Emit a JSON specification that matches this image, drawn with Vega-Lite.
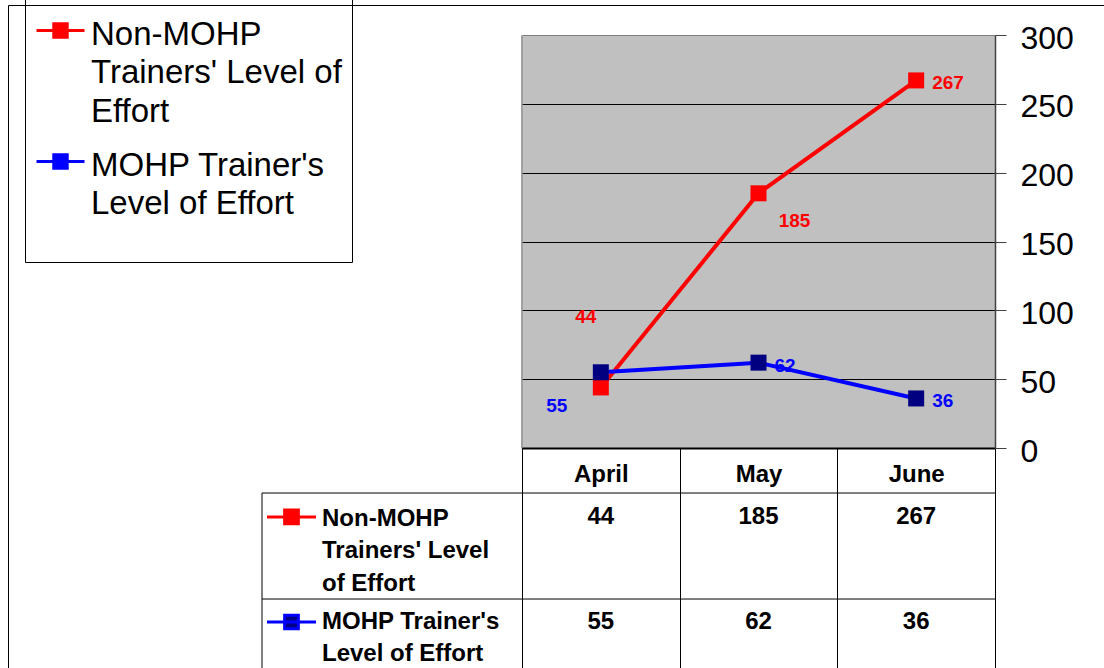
{
  "$schema": "https://vega.github.io/schema/vega-lite/v6.json",
  "width": 1096,
  "height": 663,
  "autosize": {"type": "none"},
  "padding": {"left": 8, "top": 5, "right": 0, "bottom": 0},
  "background": "white",
  "config": {
    "font": "Liberation Sans",
    "view": {"stroke": "black", "strokeWidth": 1, "strokeDash": [1096, 1759, 663, 0]}
  },
  "data": {
    "values": [
      {"month": "April", "series": "Non-MOHP Trainers' Level of Effort", "value": 44},
      {"month": "May", "series": "Non-MOHP Trainers' Level of Effort", "value": 185},
      {"month": "June", "series": "Non-MOHP Trainers' Level of Effort", "value": 267},
      {"month": "April", "series": "MOHP Trainer's Level of Effort", "value": 55},
      {"month": "May", "series": "MOHP Trainer's Level of Effort", "value": 62},
      {"month": "June", "series": "MOHP Trainer's Level of Effort", "value": 36}
    ]
  },
  "resolve": {"axis": {"x": "independent", "y": "independent"}},
  "layer": [
    {
      "transform": [{"aggregate": [{"op": "count", "as": "n"}]}],
      "mark": {"type": "rule", "color": "#808080", "strokeWidth": 1},
      "encoding": {
        "x": {
          "datum": "April", "bandPosition": 0, "type": "nominal",
          "scale": {"type": "band", "domain": ["April", "May", "June"], "range": [514, 987], "paddingInner": 0, "paddingOuter": 0},
          "axis": {"orient": "top", "grid": true, "tickBand": "center", "gridColor": "#C0C0C0", "gridWidth": 159, "gridOpacity": 1, "gridCap": "butt", "domain": false, "ticks": false, "labels": false, "title": null}
        },
        "y": {
          "datum": 0, "type": "quantitative",
          "scale": {"domain": [0, 300], "range": [443, 30], "nice": false, "zero": false},
          "axis": {
            "orient": "left", "values": [0, 50, 100, 150, 200, 250, 300],
            "grid": true, "gridWidth": 1,
            "gridColor": {"condition": {"test": "datum.value == 300", "value": "#808080"}, "value": "#000000"},
            "domain": false, "ticks": false, "labels": false, "title": null
          }
        },
        "y2": {"datum": 300}
      }
    },
    {
      "mark": {"type": "line", "strokeWidth": 4},
      "encoding": {
        "x": {
          "field": "month", "type": "nominal", "sort": ["April", "May", "June"],
          "scale": {"type": "band", "domain": ["April", "May", "June"], "range": [514, 987], "paddingInner": 0, "paddingOuter": 0},
          "axis": {
            "orient": "bottom", "offset": -220, "tickBand": "extent", "tickSize": 220, "tickColor": "#000000", "tickWidth": 1,
            "domainColor": "#000000", "domainWidth": 2, "grid": false,
            "labelFont": "Liberation Sans", "labelFontWeight": "bold", "labelFontSize": 24, "labelColor": "#000000",
            "labelPadding": -187, "labelBaseline": "alphabetic", "labelAngle": 0, "title": null
          }
        },
        "y": {
          "field": "value", "type": "quantitative",
          "scale": {"domain": [0, 300], "range": [443, 30], "nice": false, "zero": false},
          "axis": {
            "orient": "right", "offset": -109, "values": [0, 50, 100, 150, 200, 250, 300],
            "grid": false,
            "domainColor": "#404040", "domainWidth": 1.5,
            "tickSize": 11, "tickColor": "#404040", "tickWidth": 1,
            "labelFont": "Liberation Sans", "labelFontSize": 32, "labelColor": "#000000",
            "labelPadding": 14, "labelOffset": 3, "labelFlush": false, "labelOverlap": false,
            "title": null
          }
        },
        "color": {
          "field": "series", "type": "nominal",
          "scale": {"domain": ["Non-MOHP Trainers' Level of Effort", "MOHP Trainer's Level of Effort"], "range": ["#FF0000", "#0000FF"]},
          "legend": {
            "orient": "none", "legendX": 17, "legendY": -10,
            "title": " ", "titleOrient": "bottom", "titleFontSize": 32, "titlePadding": 0,
            "strokeColor": "#000000", "fillColor": "transparent", "padding": 10,
            "symbolType": "M-1,0H1M-0.28,-0.28H0.28V0.28H-0.28Z", "symbolSize": 2304, "symbolStrokeWidth": 3,
            "labelFont": "Liberation Sans", "labelFontSize": 33, "labelColor": "#000000", "labelLimit": 600,
            "labelOffset": 5, "labelBaseline": "alphabetic", "rowPadding": 7,
            "labelExpr": "indexof(datum.label, 'Non-') == 0 ? ['Non-MOHP', \"Trainers' Level of\", 'Effort'] : [\"MOHP Trainer's\", 'Level of Effort']",
            "encode": {
              "symbols": {"update": {"fill": {"scale": "fill", "field": "value"}, "stroke": {"scale": "color", "field": "value"}, "strokeWidth": {"value": 3}}},
              "labels": {"update": {"dy": {"value": 14}, "lineHeight": {"value": 38.5}}}
            }
          }
        }
      }
    },
    {
      "mark": {"type": "point", "shape": "square", "filled": true, "size": 256, "opacity": 1},
      "encoding": {
        "x": {"field": "month", "type": "nominal", "scale": {"type": "band", "domain": ["April", "May", "June"], "range": [514, 987], "paddingInner": 0, "paddingOuter": 0}, "axis": null},
        "y": {"field": "value", "type": "quantitative", "scale": {"domain": [0, 300], "range": [443, 30], "nice": false, "zero": false}, "axis": null},
        "fill": {
          "field": "series", "type": "nominal",
          "scale": {"domain": ["Non-MOHP Trainers' Level of Effort", "MOHP Trainer's Level of Effort"], "range": ["#FF0000", "#000080"]},
          "legend": null
        }
      }
    },
    {
      "transform": [{"filter": "datum.month != 'April' && !(datum.month == 'May' && indexof(datum.series, 'Non-') == 0)"}],
      "mark": {"type": "text", "align": "left", "baseline": "middle", "dx": 16, "dy": 3, "fontSize": 19, "fontWeight": "bold", "font": "Liberation Sans"},
      "encoding": {
        "x": {"field": "month", "type": "nominal", "scale": {"type": "band", "domain": ["April", "May", "June"], "range": [514, 987], "paddingInner": 0, "paddingOuter": 0}, "axis": null},
        "y": {"field": "value", "type": "quantitative", "scale": {"domain": [0, 300], "range": [443, 30], "nice": false, "zero": false}, "axis": null},
        "text": {"field": "value", "type": "quantitative"},
        "color": {"field": "series", "type": "nominal"}
      }
    },
    {
      "transform": [{"filter": "datum.month == 'April' && indexof(datum.series, 'Non-') == 0"}],
      "mark": {"type": "text", "align": "center", "baseline": "middle", "dx": -15, "dy": -70, "fontSize": 19, "fontWeight": "bold", "font": "Liberation Sans"},
      "encoding": {
        "x": {"field": "month", "type": "nominal", "scale": {"type": "band", "domain": ["April", "May", "June"], "range": [514, 987], "paddingInner": 0, "paddingOuter": 0}, "axis": null},
        "y": {"field": "value", "type": "quantitative", "scale": {"domain": [0, 300], "range": [443, 30], "nice": false, "zero": false}, "axis": null},
        "text": {"field": "value", "type": "quantitative"},
        "color": {"field": "series", "type": "nominal"}
      }
    },
    {
      "transform": [{"filter": "datum.month == 'May' && indexof(datum.series, 'Non-') == 0"}],
      "mark": {"type": "text", "align": "center", "baseline": "middle", "dx": 36, "dy": 28, "fontSize": 19, "fontWeight": "bold", "font": "Liberation Sans"},
      "encoding": {
        "x": {"field": "month", "type": "nominal", "scale": {"type": "band", "domain": ["April", "May", "June"], "range": [514, 987], "paddingInner": 0, "paddingOuter": 0}, "axis": null},
        "y": {"field": "value", "type": "quantitative", "scale": {"domain": [0, 300], "range": [443, 30], "nice": false, "zero": false}, "axis": null},
        "text": {"field": "value", "type": "quantitative"},
        "color": {"field": "series", "type": "nominal"}
      }
    },
    {
      "transform": [{"filter": "datum.month == 'April' && indexof(datum.series, 'Non-') != 0"}],
      "mark": {"type": "text", "align": "center", "baseline": "middle", "dx": -44, "dy": 33.5, "fontSize": 19, "fontWeight": "bold", "font": "Liberation Sans"},
      "encoding": {
        "x": {"field": "month", "type": "nominal", "scale": {"type": "band", "domain": ["April", "May", "June"], "range": [514, 987], "paddingInner": 0, "paddingOuter": 0}, "axis": null},
        "y": {"field": "value", "type": "quantitative", "scale": {"domain": [0, 300], "range": [443, 30], "nice": false, "zero": false}, "axis": null},
        "text": {"field": "value", "type": "quantitative"},
        "color": {"field": "series", "type": "nominal"}
      }
    },
    {
      "transform": [{"aggregate": [{"op": "count", "as": "n"}]}],
      "mark": {"type": "rule", "color": "#000000", "strokeWidth": 1},
      "encoding": {
        "x": {"datum": "April", "bandPosition": -1.649, "type": "nominal", "scale": {"type": "band", "domain": ["April", "May", "June"], "range": [514, 987], "paddingInner": 0, "paddingOuter": 0}, "axis": null},
        "x2": {"datum": "June", "bandPosition": 1},
        "y": {"datum": -32.7, "type": "quantitative", "scale": {"domain": [0, 300], "range": [443, 30], "nice": false, "zero": false}, "axis": null}
      }
    },
    {
      "transform": [{"aggregate": [{"op": "count", "as": "n"}]}],
      "mark": {"type": "rule", "color": "#000000", "strokeWidth": 1},
      "encoding": {
        "x": {"datum": "April", "bandPosition": -1.649, "type": "nominal", "scale": {"type": "band", "domain": ["April", "May", "June"], "range": [514, 987], "paddingInner": 0, "paddingOuter": 0}, "axis": null},
        "x2": {"datum": "June", "bandPosition": 1},
        "y": {"datum": -109.7, "type": "quantitative", "scale": {"domain": [0, 300], "range": [443, 30], "nice": false, "zero": false}, "axis": null}
      }
    },
    {
      "transform": [{"aggregate": [{"op": "count", "as": "n"}]}],
      "mark": {"type": "rule", "color": "#000000", "strokeWidth": 1},
      "encoding": {
        "x": {"datum": "April", "bandPosition": -1.649, "type": "nominal", "scale": {"type": "band", "domain": ["April", "May", "June"], "range": [514, 987], "paddingInner": 0, "paddingOuter": 0}, "axis": null},
        "y": {"datum": -32.7, "type": "quantitative", "scale": {"domain": [0, 300], "range": [443, 30], "nice": false, "zero": false}, "axis": null},
        "y2": {"datum": -165}
      }
    },
    {
      "transform": [{"filter": "indexof(datum.series, 'Non-') == 0"}],
      "layer": [
        {
          "mark": {"type": "text", "align": "center", "baseline": "alphabetic", "fontSize": 24, "fontWeight": "bold", "color": "#000000", "font": "Liberation Sans"},
          "encoding": {
            "x": {"field": "month", "type": "nominal", "scale": {"type": "band", "domain": ["April", "May", "June"], "range": [514, 987], "paddingInner": 0, "paddingOuter": 0}, "axis": null},
            "y": {"datum": -55.2, "type": "quantitative", "scale": {"domain": [0, 300], "range": [443, 30], "nice": false, "zero": false}, "axis": null},
            "text": {"field": "value", "type": "quantitative"}
          }
        },
        {
          "transform": [
            {"filter": "datum.month == 'April'"},
            {"calculate": "['Non-MOHP', \"Trainers' Level\", 'of Effort']", "as": "rowLabel"}
          ],
          "mark": {"type": "text", "align": "left", "baseline": "alphabetic", "fontSize": 24, "fontWeight": "bold", "color": "#000000", "lineHeight": 32.5, "font": "Liberation Sans"},
          "encoding": {
            "x": {"datum": "April", "bandPosition": -1.2685, "type": "nominal", "scale": {"type": "band", "domain": ["April", "May", "June"], "range": [514, 987], "paddingInner": 0, "paddingOuter": 0}, "axis": null},
            "y": {"datum": -56.6, "type": "quantitative", "scale": {"domain": [0, 300], "range": [443, 30], "nice": false, "zero": false}, "axis": null},
            "text": {"field": "rowLabel", "type": "nominal"}
          }
        },
        {
          "transform": [{"filter": "datum.month == 'April'"}],
          "mark": {"type": "point", "shape": "M-1,0H1M-0.28,-0.28H0.28V0.28H-0.28Z", "size": 2401, "strokeWidth": 3, "filled": false, "opacity": 1},
          "encoding": {
            "x": {"datum": "April", "bandPosition": -1.462, "type": "nominal", "scale": {"type": "band", "domain": ["April", "May", "June"], "range": [514, 987], "paddingInner": 0, "paddingOuter": 0}, "axis": null},
            "y": {"datum": -50.1, "type": "quantitative", "scale": {"domain": [0, 300], "range": [443, 30], "nice": false, "zero": false}, "axis": null},
            "color": {"field": "series", "type": "nominal"},
            "fill": {"field": "series", "type": "nominal", "legend": null}
          }
        }
      ]
    },
    {
      "transform": [{"filter": "indexof(datum.series, 'Non-') != 0"}],
      "layer": [
        {
          "mark": {"type": "text", "align": "center", "baseline": "alphabetic", "fontSize": 24, "fontWeight": "bold", "color": "#000000", "font": "Liberation Sans"},
          "encoding": {
            "x": {"field": "month", "type": "nominal", "scale": {"type": "band", "domain": ["April", "May", "June"], "range": [514, 987], "paddingInner": 0, "paddingOuter": 0}, "axis": null},
            "y": {"datum": -131.8, "type": "quantitative", "scale": {"domain": [0, 300], "range": [443, 30], "nice": false, "zero": false}, "axis": null},
            "text": {"field": "value", "type": "quantitative"}
          }
        },
        {
          "transform": [
            {"filter": "datum.month == 'April'"},
            {"calculate": "[\"MOHP Trainer's\", 'Level of Effort']", "as": "rowLabel"}
          ],
          "mark": {"type": "text", "align": "left", "baseline": "alphabetic", "fontSize": 24, "fontWeight": "bold", "color": "#000000", "lineHeight": 32.5, "font": "Liberation Sans"},
          "encoding": {
            "x": {"datum": "April", "bandPosition": -1.2685, "type": "nominal", "scale": {"type": "band", "domain": ["April", "May", "June"], "range": [514, 987], "paddingInner": 0, "paddingOuter": 0}, "axis": null},
            "y": {"datum": -131.4, "type": "quantitative", "scale": {"domain": [0, 300], "range": [443, 30], "nice": false, "zero": false}, "axis": null},
            "text": {"field": "rowLabel", "type": "nominal"}
          }
        },
        {
          "transform": [{"filter": "datum.month == 'April'"}],
          "mark": {"type": "point", "shape": "M-1,0H1M-0.28,-0.28H0.28V0.28H-0.28Z", "size": 2401, "strokeWidth": 3, "filled": false, "opacity": 1},
          "encoding": {
            "x": {"datum": "April", "bandPosition": -1.462, "type": "nominal", "scale": {"type": "band", "domain": ["April", "May", "June"], "range": [514, 987], "paddingInner": 0, "paddingOuter": 0}, "axis": null},
            "y": {"datum": -126.4, "type": "quantitative", "scale": {"domain": [0, 300], "range": [443, 30], "nice": false, "zero": false}, "axis": null},
            "color": {"field": "series", "type": "nominal"},
            "fill": {"field": "series", "type": "nominal", "legend": null}
          }
        }
      ]
    }
  ]
}
